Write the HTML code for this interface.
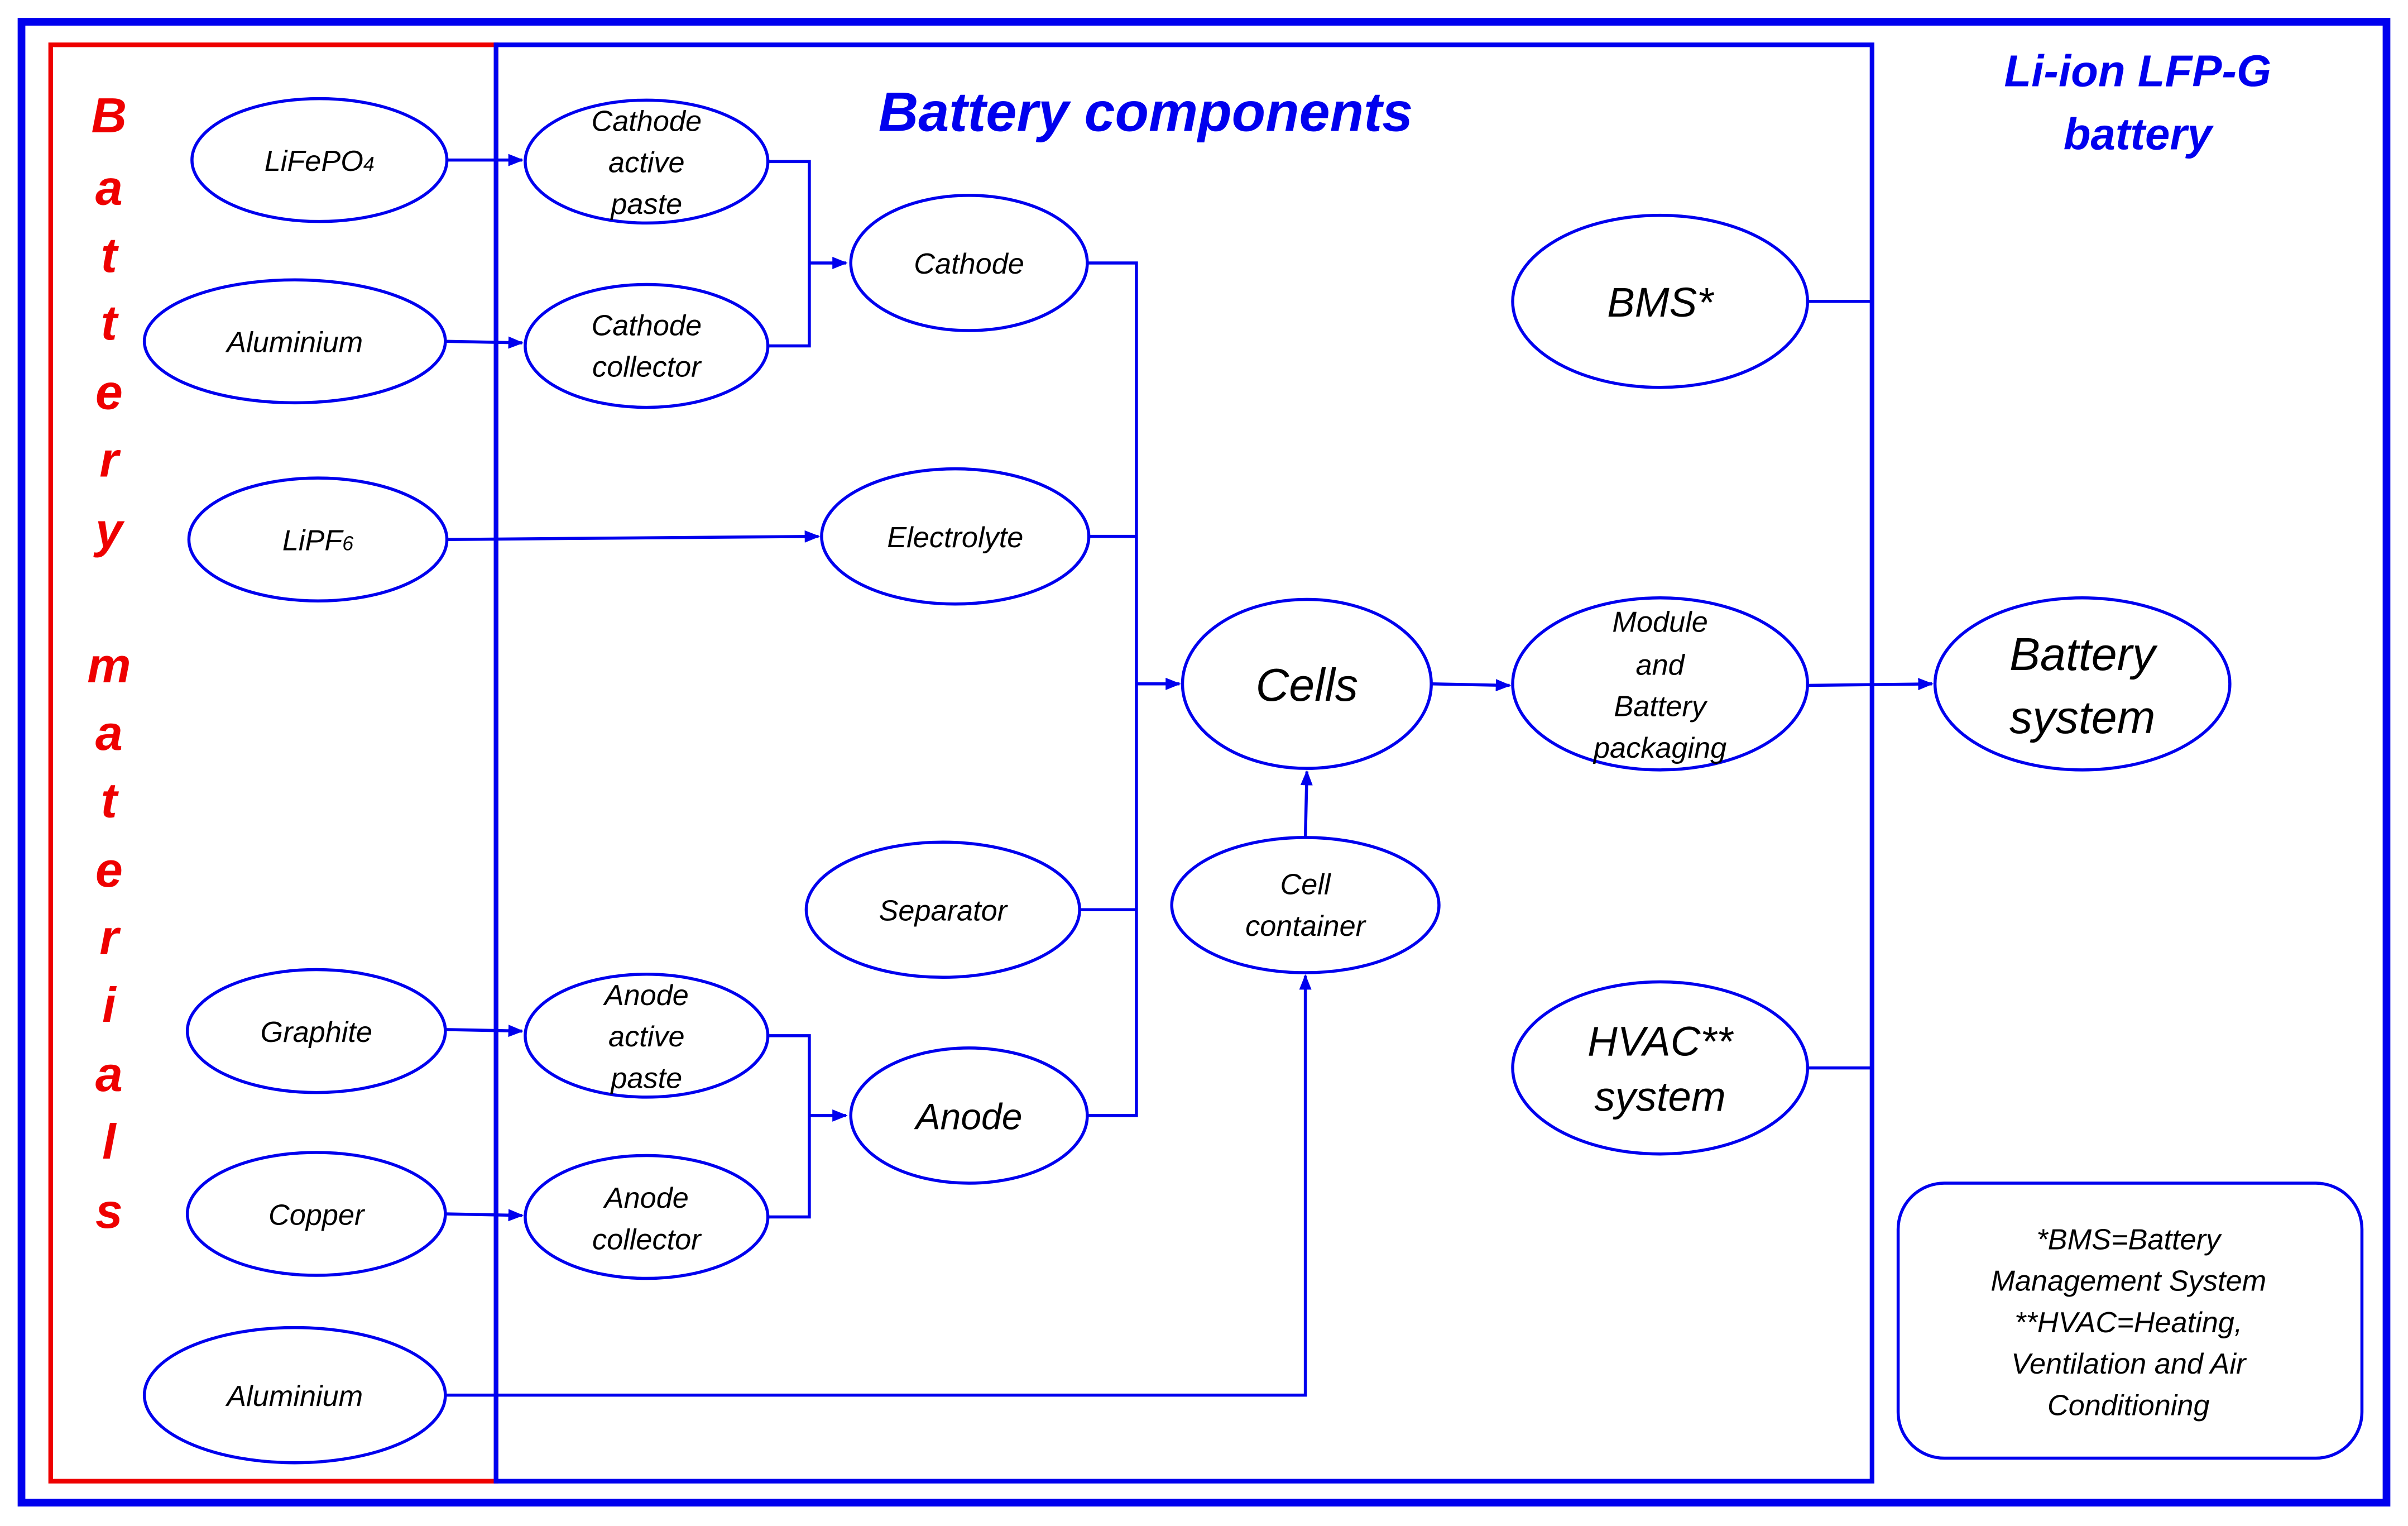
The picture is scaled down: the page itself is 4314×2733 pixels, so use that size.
<!DOCTYPE html>
<html><head><meta charset="utf-8"><style>
html,body{margin:0;padding:0;background:#fff;}
svg{display:block;}
text{font-family:"Liberation Sans",sans-serif;font-style:italic;fill:#000;text-anchor:middle;}
</style></head><body>
<svg width="4314" height="2733" viewBox="0 0 1568 993" xmlns="http://www.w3.org/2000/svg">
<defs><marker id="a" markerWidth="10" markerHeight="8" refX="9" refY="4" orient="auto" markerUnits="userSpaceOnUse"><path d="M0,0 L10,4 L0,8 z" fill="#0000ee"/></marker></defs>
<rect width="1568" height="993" fill="#fff"/>
<rect x="14" y="14" width="1540" height="964" fill="none" stroke="#0000ee" stroke-width="5"/>
<rect x="33" y="29" width="290" height="935" fill="none" stroke="#ee0000" stroke-width="3"/>
<rect x="323" y="29" width="896" height="935" fill="none" stroke="#0000ee" stroke-width="3"/>
<g style="font-weight:bold;font-size:32px">
<text x="71" y="86" style="fill:#ee0000">B</text>
<text x="71" y="133" style="fill:#ee0000">a</text>
<text x="71" y="177" style="fill:#ee0000">t</text>
<text x="71" y="221" style="fill:#ee0000">t</text>
<text x="71" y="266" style="fill:#ee0000">e</text>
<text x="71" y="310" style="fill:#ee0000">r</text>
<text x="71" y="356" style="fill:#ee0000">y</text>
<text x="71" y="444" style="fill:#ee0000">m</text>
<text x="71" y="488" style="fill:#ee0000">a</text>
<text x="71" y="532" style="fill:#ee0000">t</text>
<text x="71" y="577" style="fill:#ee0000">e</text>
<text x="71" y="621" style="fill:#ee0000">r</text>
<text x="71" y="665" style="fill:#ee0000">i</text>
<text x="71" y="710" style="fill:#ee0000">a</text>
<text x="71" y="754" style="fill:#ee0000">l</text>
<text x="71" y="799" style="fill:#ee0000">s</text>
</g>
<text x="746" y="85" style="font-weight:bold;font-size:36px;fill:#0000ee">Battery components</text>
<text x="1392" y="56" style="font-weight:bold;font-size:29px;fill:#0000ee">Li-ion LFP-G</text>
<text x="1392" y="97" style="font-weight:bold;font-size:29px;fill:#0000ee">battery</text>
<g fill="none" stroke="#0000ee" stroke-width="2">
<ellipse cx="208" cy="104" rx="83" ry="40"/>
<ellipse cx="192" cy="222" rx="98" ry="40"/>
<ellipse cx="207" cy="351" rx="84" ry="40"/>
<ellipse cx="206" cy="671" rx="84" ry="40"/>
<ellipse cx="206" cy="790" rx="84" ry="40"/>
<ellipse cx="192" cy="908" rx="98" ry="44"/>
<ellipse cx="421" cy="105" rx="79" ry="40"/>
<ellipse cx="421" cy="225" rx="79" ry="40"/>
<ellipse cx="631" cy="171" rx="77" ry="44"/>
<ellipse cx="622" cy="349" rx="87" ry="44"/>
<ellipse cx="614" cy="592" rx="89" ry="44"/>
<ellipse cx="421" cy="674" rx="79" ry="40"/>
<ellipse cx="421" cy="792" rx="79" ry="40"/>
<ellipse cx="631" cy="726" rx="77" ry="44"/>
<ellipse cx="851" cy="445" rx="81" ry="55"/>
<ellipse cx="850" cy="589" rx="87" ry="44"/>
<ellipse cx="1081" cy="445" rx="96" ry="56"/>
<ellipse cx="1081" cy="196" rx="96" ry="56"/>
<ellipse cx="1081" cy="695" rx="96" ry="56"/>
<ellipse cx="1356" cy="445" rx="96" ry="56"/>
<rect x="1236" y="770" width="302" height="179" rx="30"/>
</g>
<g fill="none" stroke="#0000ee" stroke-width="2">
<path d="M291,104 H340" marker-end="url(#a)"/>
<path d="M290,222 L340,223" marker-end="url(#a)"/>
<path d="M291,351 L533,349" marker-end="url(#a)"/>
<path d="M290,670 L340,671" marker-end="url(#a)"/>
<path d="M290,790 L340,791" marker-end="url(#a)"/>
<path d="M290,908 H850 V635" marker-end="url(#a)"/>
<path d="M500,105 H527 V225 H500"/>
<path d="M527,171 H551" marker-end="url(#a)"/>
<path d="M500,674 H527 V792 H500"/>
<path d="M527,726 H551" marker-end="url(#a)"/>
<path d="M708,171 H740 V726 H708"/>
<path d="M709,349 H740"/>
<path d="M703,592 H740"/>
<path d="M740,445 H768" marker-end="url(#a)"/>
<path d="M850,545 L851,502" marker-end="url(#a)"/>
<path d="M932,445 L983,446" marker-end="url(#a)"/>
<path d="M1177,446 L1258,445" marker-end="url(#a)"/>
<path d="M1177,196 H1218"/>
<path d="M1177,695 H1218"/>
</g>
<g style="font-size:19px">
<text x="208" y="111">LiFePO<tspan style="font-size:13px">4</tspan></text>
<text x="192" y="229">Aluminium</text>
<text x="207" y="358">LiPF<tspan style="font-size:13px">6</tspan></text>
<text x="206" y="678">Graphite</text>
<text x="206" y="797">Copper</text>
<text x="192" y="915">Aluminium</text>
<text x="421" y="85">Cathode</text><text x="421" y="112">active</text><text x="421" y="139">paste</text>
<text x="421" y="218">Cathode</text><text x="421" y="245">collector</text>
<text x="631" y="178">Cathode</text>
<text x="622" y="356">Electrolyte</text>
<text x="614" y="599">Separator</text>
<text x="421" y="654">Anode</text><text x="421" y="681">active</text><text x="421" y="708">paste</text>
<text x="421" y="786">Anode</text><text x="421" y="813">collector</text>
<text x="850" y="582">Cell</text><text x="850" y="609">container</text>
<text x="1081" y="411">Module</text><text x="1081" y="439">and</text><text x="1081" y="466">Battery</text><text x="1081" y="493">packaging</text>
<text x="1386" y="813">*BMS=Battery</text>
<text x="1386" y="840">Management System</text>
<text x="1386" y="867">**HVAC=Heating,</text>
<text x="1386" y="894">Ventilation and Air</text>
<text x="1386" y="921">Conditioning</text>
</g>
<text x="631" y="735" style="font-size:24px">Anode</text>
<text x="851" y="456" style="font-size:30px">Cells</text>
<text x="1081" y="206" style="font-size:27px">BMS*</text>
<text x="1081" y="687" style="font-size:27px">HVAC**</text>
<text x="1081" y="723" style="font-size:27px">system</text>
<text x="1356" y="436" style="font-size:30px">Battery</text>
<text x="1356" y="477" style="font-size:30px">system</text>
</svg>
</body></html>
